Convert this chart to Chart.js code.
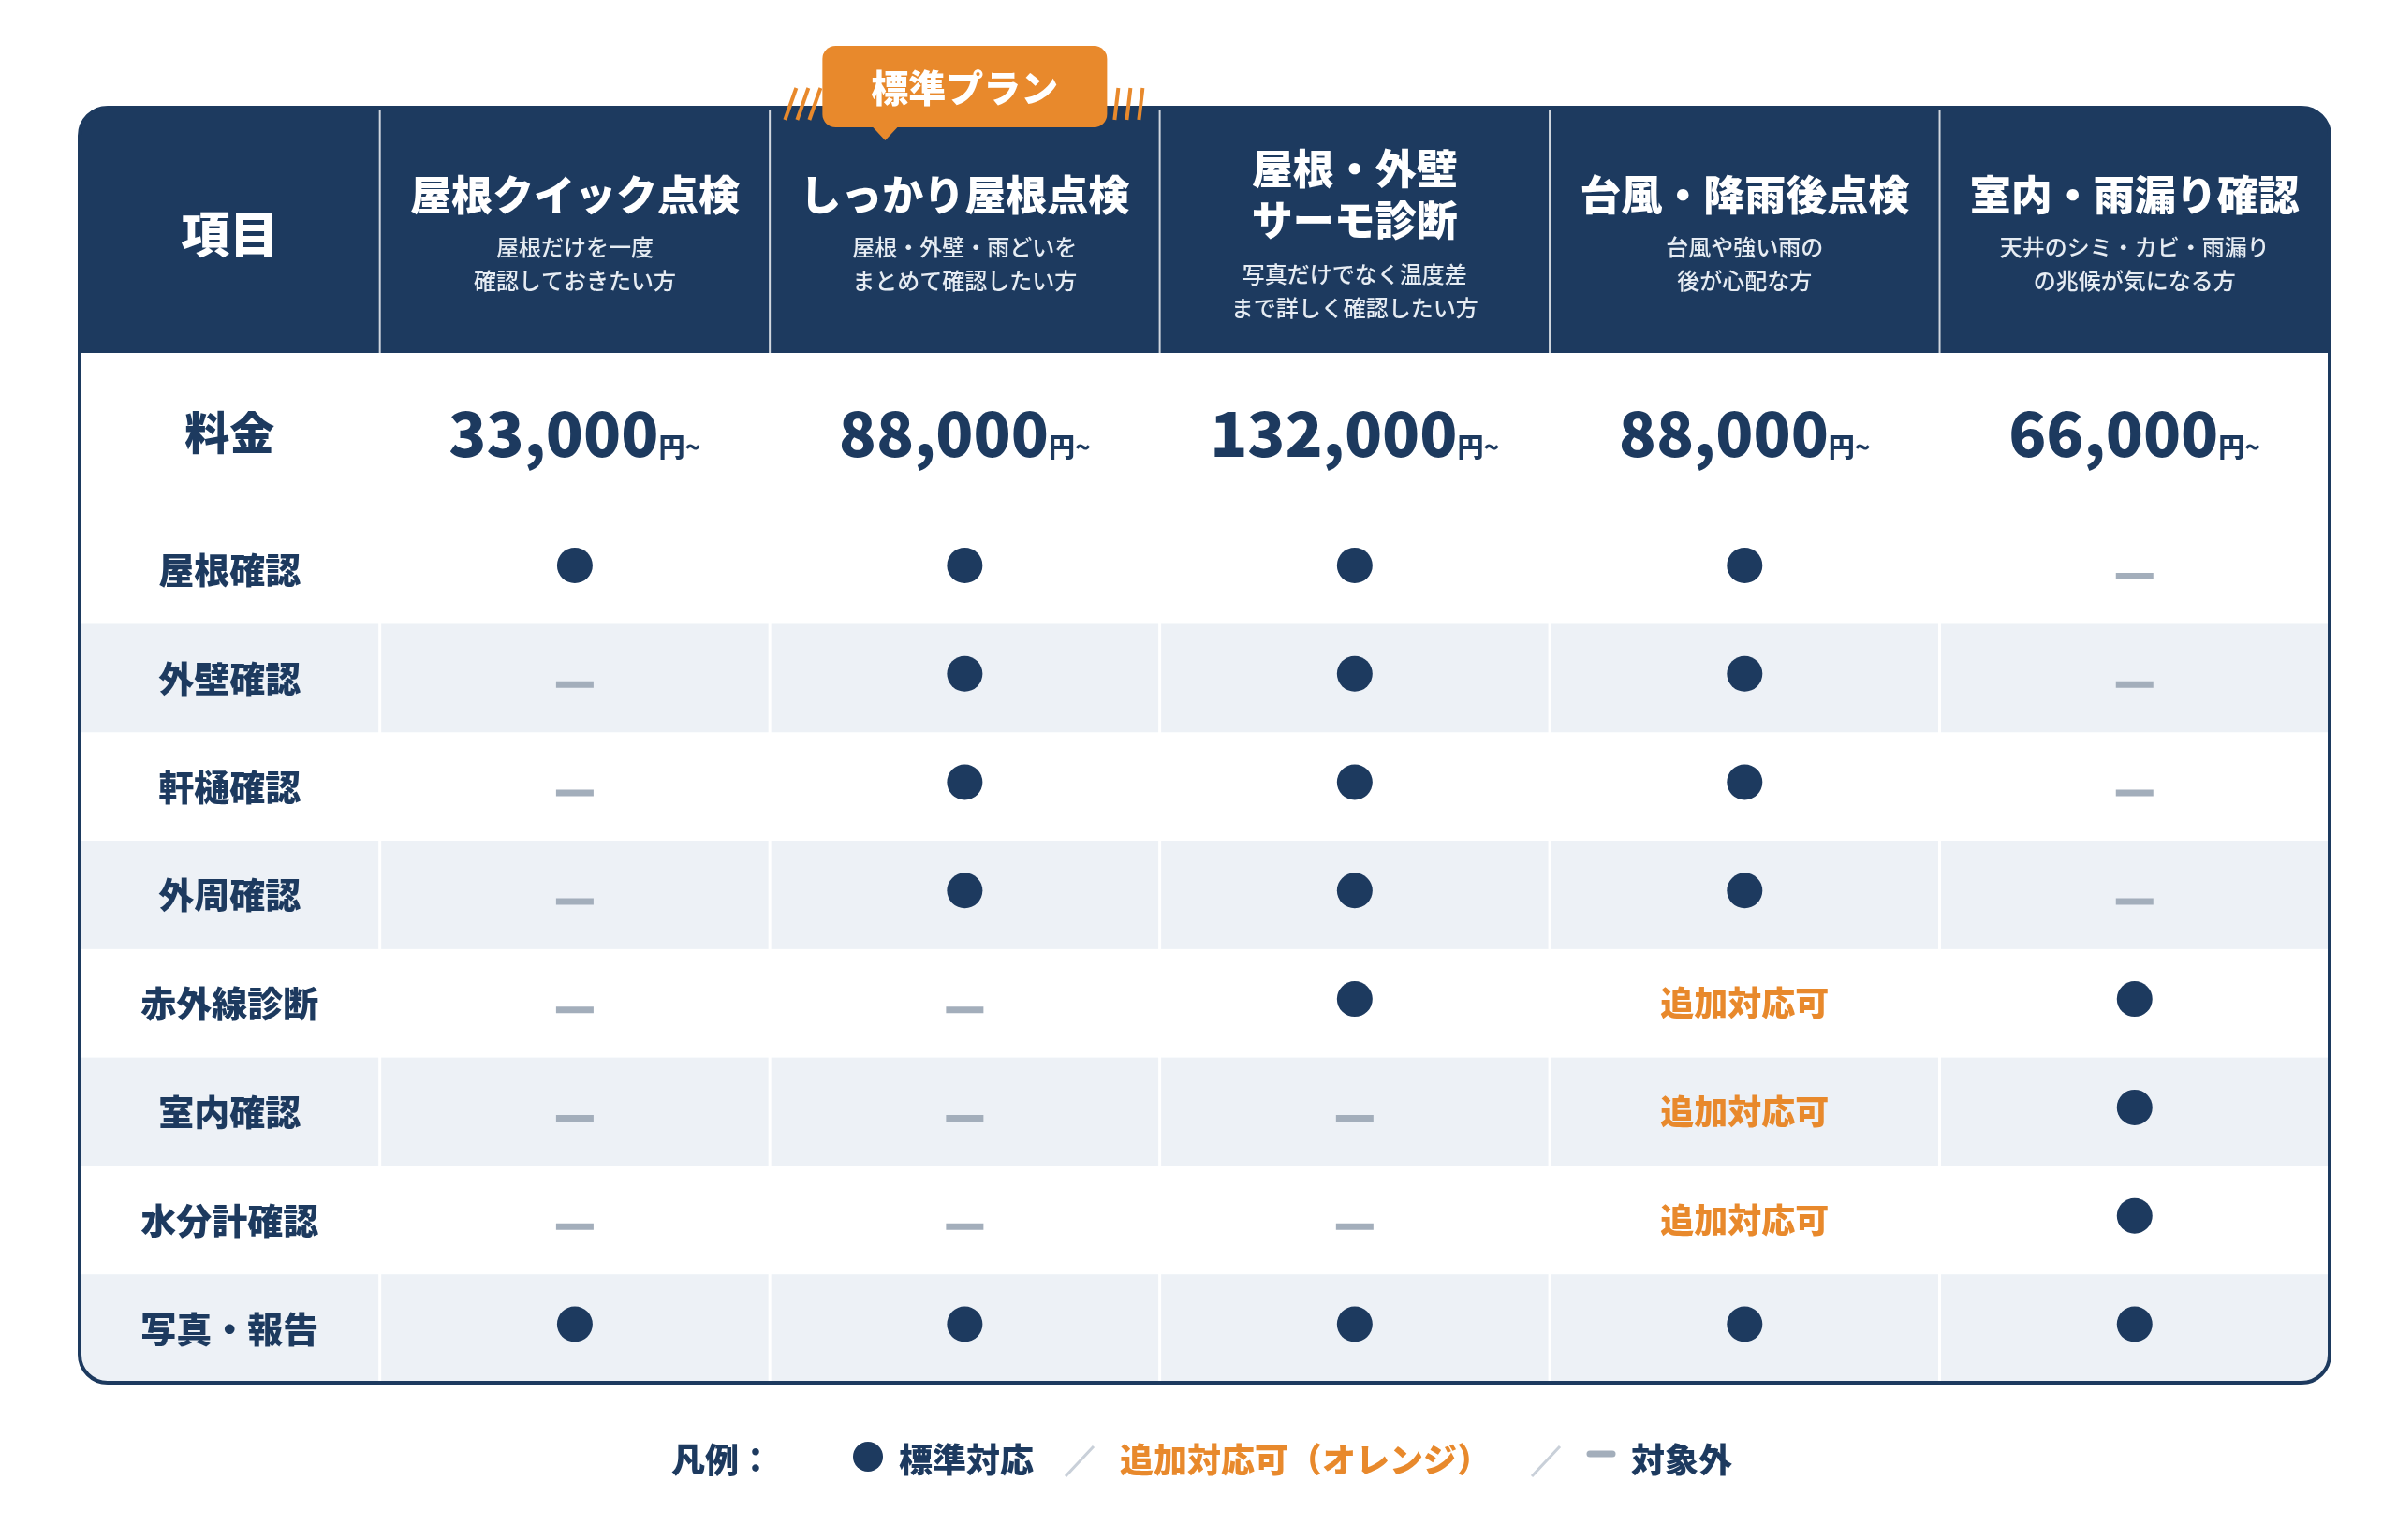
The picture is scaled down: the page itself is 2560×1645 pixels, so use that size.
<!DOCTYPE html>
<html><head><meta charset="utf-8">
<script src="https://cdn.jsdelivr.net/npm/chart.js@4"></script>
<style>html,body{margin:0;padding:0;background:#fff}canvas{display:block}</style>
</head><body><canvas id="c" width="2560" height="1645"></canvas>
<script>
const plans = ['屋根クイック点検','しっかり屋根点検','屋根・外壁\nサーモ診断','台風・降雨後点検','室内・雨漏り確認'];
const planDesc = [['屋根だけを一度','確認しておきたい方'],['屋根・外壁・雨どいを','まとめて確認したい方'],['写真だけでなく温度差','まで詳しく確認したい方'],['台風や強い雨の','後が心配な方'],['天井のシミ・カビ・雨漏り','の兆候が気になる方']];
const prices = ['33,000','88,000','132,000','88,000','66,000'];
const features = ['屋根確認','外壁確認','軒樋確認','外周確認','赤外線診断','室内確認','水分計確認','写真・報告'];
// 1 = standard, 2 = optional (orange), 0 = not applicable ; per feature, per plan
const status = [
 [1,1,1,1,0],
 [0,1,1,1,0],
 [0,1,1,1,0],
 [0,1,1,1,0],
 [0,0,1,2,1],
 [0,0,0,2,1],
 [0,0,0,2,1],
 [1,1,1,1,1]
];
const optionalText = '追加対応可';
const featuredPlan = 1;
const badgeText = '標準プラン';

const NAVY='#1d3a5f', ORANGE='#e8892c', GRAY='#a3aebb', STRIPE='#edf1f6';
const FONT='"Noto Sans CJK JP"';
// layout: first column 0.77 units, others 1 unit; price row 1.5 units, others 1
const FIRST=0.77, PRICE_H=1.5;
const colX = i => FIRST + i + 0.5;
const rowY = r => PRICE_H + r + 0.5;

const dots=[], dashes=[];
status.forEach((row,r)=>row.forEach((s,p)=>{
  if(s===1) dots.push({x:colX(p),y:rowY(r)-0.04});
  if(s===0) dashes.push({x:colX(p),y:rowY(r)+0.06});
}));

const L=85,R=2488,T=377,B=1477,HT=115;

function rr(ctx,x,y,w,h,r){ctx.beginPath();ctx.roundRect(x,y,w,h,r);}

const tablePlugin={
 id:'table',
 beforeDatasetsDraw(chart){
  const ctx=chart.ctx, xs=chart.scales.x, ys=chart.scales.y;
  ctx.save();
  // body clip
  ctx.save();
  rr(ctx,L,HT,R-L,B-HT,30);ctx.clip();
  ctx.fillStyle='#fff';ctx.fillRect(L,T,R-L,B-T);
  features.forEach((f,r)=>{ if(r%2===1){ctx.fillStyle=STRIPE;ctx.fillRect(L,ys.getPixelForValue(PRICE_H+r),R-L,ys.getPixelForValue(PRICE_H+r+1)-ys.getPixelForValue(PRICE_H+r));}});
  // header
  ctx.fillStyle=NAVY;ctx.fillRect(L,HT,R-L,T-HT);
  ctx.restore();
  // column separators
  for(let i=0;i<plans.length;i++){
    const x=xs.getPixelForValue(FIRST+i);
    ctx.strokeStyle='rgba(255,255,255,0.8)';ctx.lineWidth=2;
    ctx.beginPath();ctx.moveTo(x,HT);ctx.lineTo(x,T);ctx.stroke();
    ctx.strokeStyle='#ffffff';ctx.lineWidth=3;
    ctx.beginPath();ctx.moveTo(x,ys.getPixelForValue(PRICE_H));ctx.lineTo(x,B);ctx.stroke();
  }
  // border
  ctx.strokeStyle=NAVY;ctx.lineWidth=4;rr(ctx,L,HT,R-L,B-HT,30);ctx.stroke();
  ctx.textAlign='center';ctx.textBaseline='middle';
  // header text
  ctx.fillStyle='#fff';ctx.font=`900 52px ${FONT}`;
  ctx.fillText('項目',xs.getPixelForValue(FIRST/2),250);
  plans.forEach((p,i)=>{
    const cx=xs.getPixelForValue(colX(i));
    const lines=p.split('\n');
    ctx.fillStyle='#fff';ctx.font=`900 44px ${FONT}`;
    let dy = lines.length>1?0:0;
    if(lines.length>1){ctx.fillText(lines[0],cx,180);ctx.fillText(lines[1],cx,235);}
    else ctx.fillText(lines[0],cx,208);
    ctx.font=`500 24px ${FONT}`;ctx.fillStyle='#e6ecf3';
    const d0=lines.length>1?293:264;
    planDesc[i].forEach((d,k)=>ctx.fillText(d,cx,d0+k*36));
  });
  // badge
  const bx=xs.getPixelForValue(colX(featuredPlan))-152, bw=304;
  ctx.fillStyle=ORANGE;rr(ctx,bx,49,bw,87,14);ctx.fill();
  const tipX=xs.getPixelForValue(colX(featuredPlan))-85;
  ctx.beginPath();ctx.moveTo(tipX-14,135);ctx.lineTo(tipX+14,135);ctx.lineTo(tipX,150);ctx.closePath();ctx.fill();
  ctx.fillStyle='#fff';ctx.font=`900 40px ${FONT}`;ctx.fillText(badgeText,bx+bw/2,94);
  ctx.strokeStyle=ORANGE;ctx.lineWidth=4;
  for(let k=0;k<3;k++){
    const x0=bx-40+k*13;ctx.beginPath();ctx.moveTo(x0,128);ctx.lineTo(x0+12,94);ctx.stroke();
    const x1=bx+bw+8+k*13;ctx.beginPath();ctx.moveTo(x1,128);ctx.lineTo(x1+4,94);ctx.stroke();
  }
  // price row
  const py=ys.getPixelForValue(PRICE_H/2)+2;
  ctx.fillStyle=NAVY;ctx.font=`900 48px ${FONT}`;ctx.fillText('料金',xs.getPixelForValue(FIRST/2),py-4);
  prices.forEach((p,i)=>{
    const cx=xs.getPixelForValue(colX(i));
    ctx.font=`900 66px ${FONT}`;const w1=ctx.measureText(p).width;
    ctx.font=`900 28px ${FONT}`;const w2=ctx.measureText('円~').width;
    const sx=cx-(w1+w2)/2;
    ctx.textAlign='left';ctx.textBaseline='alphabetic';
    ctx.font=`900 66px ${FONT}`;ctx.fillText(p,sx,py+22);
    ctx.font=`900 28px ${FONT}`;ctx.fillText('円~',sx+w1,py+22);
    ctx.textAlign='center';ctx.textBaseline='middle';
  });
  // feature labels & optional text
  features.forEach((f,r)=>{
    const y=ys.getPixelForValue(rowY(r));
    ctx.fillStyle=NAVY;ctx.font=`900 38px ${FONT}`;ctx.fillText(f,xs.getPixelForValue(FIRST/2),y);
    status[r].forEach((s,p)=>{ if(s===2){ctx.fillStyle=ORANGE;ctx.font=`900 36px ${FONT}`;ctx.fillText(optionalText,xs.getPixelForValue(colX(p)),y);} });
  });
  // legend
  const ly=1559;
  ctx.textAlign='left';ctx.font=`900 36px ${FONT}`;
  ctx.fillStyle=NAVY;ctx.fillText('凡例：',717,ly);
  ctx.beginPath();ctx.arc(927,ly-3,16,0,Math.PI*2);ctx.fill();
  ctx.fillText('標準対応',960,ly);
  ctx.strokeStyle='#c9d0d9';ctx.lineWidth=3;
  ctx.beginPath();ctx.moveTo(1138,ly+18);ctx.lineTo(1168,ly-14);ctx.stroke();
  ctx.fillStyle=ORANGE;ctx.fillText('追加対応可（オレンジ）',1196,ly);
  ctx.beginPath();ctx.moveTo(1636,ly+18);ctx.lineTo(1666,ly-14);ctx.stroke();
  ctx.strokeStyle=GRAY;ctx.lineWidth=7;ctx.lineCap='round';
  ctx.beginPath();ctx.moveTo(1698,ly-6);ctx.lineTo(1722,ly-6);ctx.stroke();
  ctx.fillStyle=NAVY;ctx.fillText('対象外',1742,ly);
  ctx.restore();
 }
};

new Chart(document.getElementById('c'),{
 type:'scatter',
 data:{datasets:[
  {data:dots,pointRadius:19,pointHoverRadius:19,backgroundColor:NAVY,borderWidth:0},
  {data:dashes,pointStyle:'line',pointRadius:20,pointHoverRadius:20,borderColor:GRAY,borderWidth:7}
 ]},
 options:{responsive:false,animation:false,devicePixelRatio:1,
  layout:{padding:{left:L,right:2560-R,top:T,bottom:1645-B}},
  plugins:{legend:{display:false},tooltip:{enabled:false}},
  scales:{x:{type:'linear',display:false,min:0,max:FIRST+plans.length},
          y:{type:'linear',display:false,min:0,max:PRICE_H+features.length,reverse:true}}
 },
 plugins:[tablePlugin]
});
</script></body></html>
